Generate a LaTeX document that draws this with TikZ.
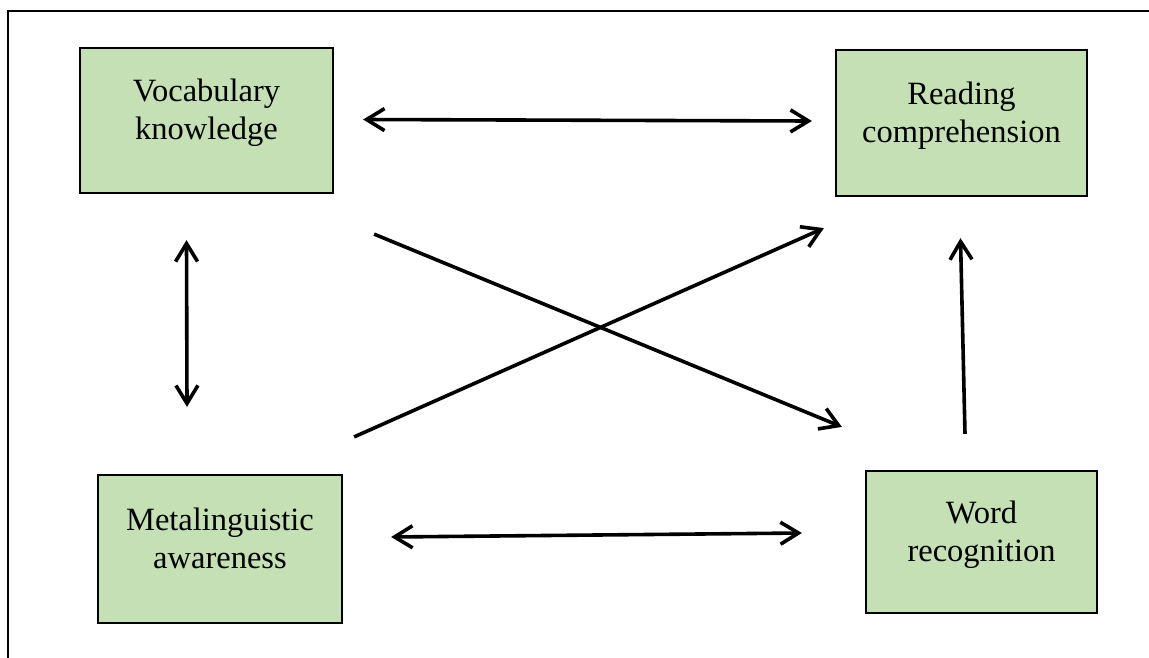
\documentclass[tikz,border=0pt]{standalone}
\usepackage{fontspec}
\setmainfont{Liberation Serif}
\usepackage{tikz}
\usetikzlibrary{arrows.meta,calc}

\definecolor{boxgreen}{HTML}{C5E0B4}

\begin{document}
\begin{tikzpicture}[x=1pt, y=-1pt,
		box/.style={draw, line width=2.2pt, fill=boxgreen, align=center,
			font=\fontsize{32.5}{38}\selectfont, text depth=22pt},
		link/.style={line width=3.6pt, >={Straight Barb[length=18pt,width=22pt]}}]
		\useasboundingbox (0,0) rectangle (1149,657);
		\begin{scope}
			\clip (0,0) rectangle (1149,657);
			\draw[line width=2.4pt] (8,11) rectangle (1170,680);
		\end{scope}

		% boxes
		\node[box, minimum width=253, minimum height=145] (voc) at (206.5,120.5) {Vocabulary\\knowledge};
		\node[box, minimum width=251, minimum height=146] (read) at (961.5,123) {Reading\\comprehension};
		\node[box, minimum width=244, minimum height=148] (meta) at (220,549) {Metalinguistic\\awareness};
		\node[box, minimum width=231, minimum height=142] (word) at (981.5,542) {Word\\recognition};

		% links
		\draw[link, <->] ($(voc.east)+(29,-1)$) -- ($(read.west)+(-23,-2)$);
		\draw[link, <->] ($(meta.east)+(48,-12)$) -- ($(word.west)+(-63,-9)$);
		\draw[link, <->] ($(voc.south)+(-20,46)$) -- ($(meta.north)+(-33,-67)$);
		\draw[link, ->] ($(word.north)+(-16.5,-36)$) -- ($(read.south)+(-1,41)$);
		\draw[link, ->] ($(voc.south east)+(40,40)$) -- ($(word.north west)+(-23,-43)$);
		\draw[link, ->] ($(meta.north east)+(11,-37)$) -- ($(read.south west)+(-11,31)$);
\end{tikzpicture}
\end{document}
